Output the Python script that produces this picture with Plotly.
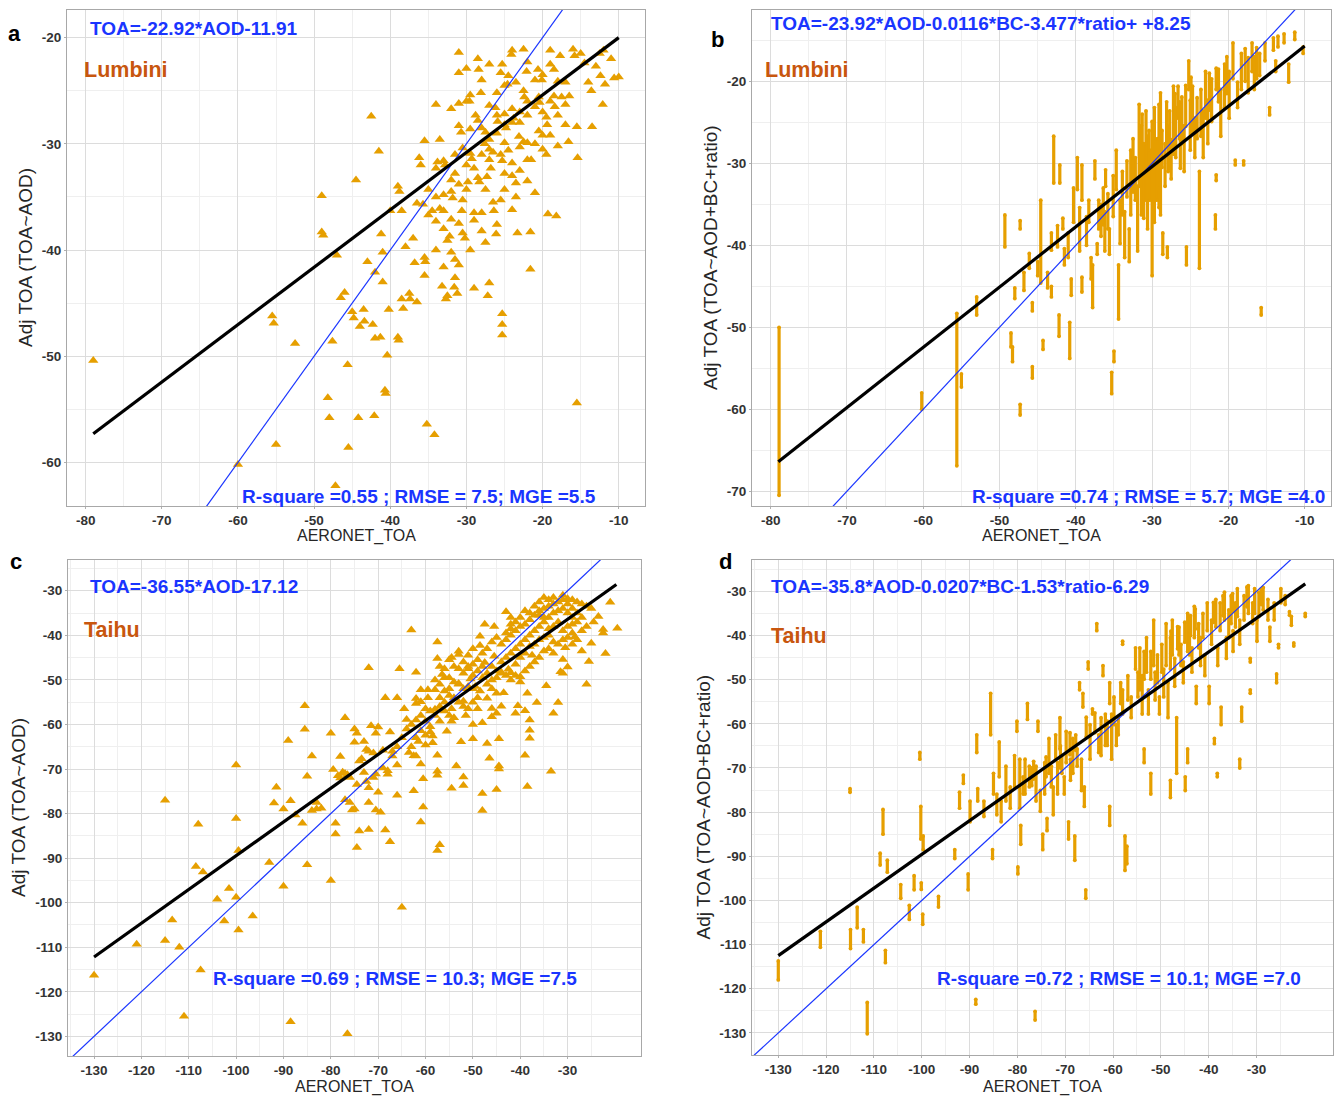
import plotly.graph_objects as go

W, H = 1338, 1096
ORANGE = "#E69F00"
BLUE = "#1A35FF"
SITE = "#C8560E"
FONT = "Liberation Sans, Arial, sans-serif"

# ---------------- data ----------------
# panel a: Lumbini, TOA ~ AOD  (AERONET_TOA, Adj TOA)
lumbini_aod_pts = [
(-79,-50.4),(-60,-60.2),(-55.5,-46.2),(-55.3,-46.9),(-55,-58.3),(-52.5,-48.8),(-49,-34.9),(-49,-38.3),(-48.8,-38.6),
(-48.2,-53.9),(-48,-55.8),(-47.6,-48.6),(-47.2,-62.2),(-47,-40.5),(-46.5,-44.5),(-46,-44.0),(-45.6,-50.8),(-45.5,-58.6),
(-45,-45.8),(-44.8,-46.4),(-44.5,-33.4),(-44.2,-55.8),(-44,-47.2),(-43.5,-45.6),(-43.4,-46.7),(-43,-41.1),(-42.5,-27.4),
(-42.3,-47.0),(-42,-42.1),(-42,-48.3),(-42.1,-55.6),(-41.5,-30.7),(-41,-40.2),(-41.2,-38.5),(-41,-43.0),(-41.3,-48.2),
(-40.7,-53.2),(-40.6,-53.5),(-40.2,-45.6),(-40.4,-49.9),(-40,-36.3),(-39,-34.0),(-38.8,-34.5),(-38.5,-36.3),(-39,-48.2),
(-38.9,-48.5),(-38.5,-44.6),(-38.3,-45.5),(-38,-39.7),(-37.5,-44.1),(-37.4,-44.6),(-37,-38.9),(-36.8,-41.2),(-36.5,-44.9),
(-36,-32.0),(-36.2,-31.3),(-35.5,-29.7),(-35.5,-40.7),(-35.4,-41.1),(-35.5,-42.4),(-35.7,-35.7),(-35,-36.7),(-35.2,-56.4),
(-34.5,-36.3),(-34,-37.3),(-34.2,-57.4),(-34,-26.3),(-33.5,-29.6),(-33.5,-36.1),(-33,-36.3),(-33,-31.6),(-32.8,-32.0),
(-33,-41.6),(-33.2,-43.4),(-32.5,-44.3),(-32.7,-44.6),(-32.5,-39.1),(-32.2,-38.7),(-32,-26.7),(-32,-34.5),(-31.8,-35.1),
(-31.5,-31.0),(-31.5,-32.8),(-31.5,-42.6),(-31.6,-43.5),(-31.2,-44.1),(-31.5,-40.9),(-31,-41.4),(-31,-21.4),(-31,-23.3),
(-31,-28.3),(-30.7,-28.9),(-30.5,-35.3),(-30.6,-36.3),(-30.5,-30.4),(-30.5,-38.4),(-30.2,-38.9),(-30,-22.9),(-30,-34.3),
(-29.8,-33.6),(-29.5,-30.9),(-29.3,-31.4),(-29.5,-25.4),(-29.6,-26.0),(-29.5,-40.0),(-29,-43.6),(-29,-36.5),(-28.8,-27.3),
(-28.5,-27.8),(-28.5,-33.2),(-28.3,-33.6),(-28.5,-22.0),(-28.4,-23.0),(-28,-36.5),(-28,-24.0),(-28.1,-25.2),(-27.5,-28.9),
(-27.6,-30.0),(-27.5,-34.3),(-27.3,-33.1),(-27.5,-39.3),(-27,-30.5),(-26.5,-30.8),(-27.2,-44.3),(-27,-43.1),(-27,-31.5),
(-26.8,-32.3),(-26.5,-35.5),(-26.4,-36.3),(-26.2,-26.6),(-26,-27.3),(-25.9,-27.9),(-26,-37.6),(-26.1,-38.5),(-25.5,-35.3),
(-25.5,-31.0),(-25.3,-31.6),(-25.3,-22.5),(-25.5,-23.3),(-25,-29.9),(-25,-28.2),(-24.8,-28.5),(-25,-34.3),(-25.3,-46.0),
(-25.3,-47.0),(-25.3,-48.0),(-24.5,-23.6),(-24.6,-24.4),(-24.5,-30.6),(-24,-21.2),(-24.1,-21.6),(-24,-33.0),(-23.5,-33.7),
(-24,-26.7),(-23.8,-27.6),(-23.5,-24.2),(-23,-28.0),(-23.1,-29.3),(-23,-32.5),(-23.3,-38.4),(-22.5,-21.1),(-22.5,-25.0),
(-22.4,-25.6),(-22.5,-29.8),(-22,-29.9),(-22,-33.5),(-22,-22.3),(-22.1,-23.2),(-22,-27.3),(-21.6,-41.8),(-21.6,-38.3),
(-21.5,-31.5),(-21,-34.6),(-21,-30.0),(-20.5,-25.6),(-20.4,-26.1),(-20.5,-28.8),(-20,-29.2),(-20,-30.5),(-20,-23.5),
(-20.1,-24.0),(-19.5,-27.5),(-19.4,-28.2),(-19.5,-31.0),(-19.3,-36.6),(-19,-21.2),(-19,-22.5),(-19,-29.2),(-18.5,-25.5),
(-18.4,-26.5),(-18.5,-23.0),(-18,-30.2),(-18.2,-36.8),(-18,-27.3),(-17.7,-21.7),(-17.5,-25.6),(-17,-26.3),(-17,-28.2),
(-16.6,-29.8),(-16.5,-25.5),(-16,-21.1),(-15.8,-21.7),(-15.4,-31.3),(-15.5,-54.4),(-15.5,-28.4),(-15,-21.5),(-14.5,-22.4),
(-14,-24.2),(-13.6,-25.0),(-13.5,-28.4),(-13,-22.7),(-12.5,-21.5),(-12.4,-23.6),(-12.1,-26.3),(-12,-21.2),(-11,-22.0),
(-10.6,-23.8),(-10,-23.7),(-11.8,-24.4),(-18,-24.1),(-17,-24.2),(-21,-24.0),(-20.6,-23.0),
(-34,-32.3),(-33.8,-31.7),(-36.5,-35.6),(-35,-34.3),(-34,-35.0),(-33,-34.8),(-32,-33.4),(-31,-33.8),(-30,-32.0),
(-29,-32.3),(-28,-31.0),(-27,-29.6),(-26,-29.0),(-25,-27.2),(-24,-28.0),(-23,-27.0),(-22,-26.0),(-21,-26.5),(-20,-27.0),
(-19,-26.0),(-32,-37.1),(-31,-37.5),(-29,-37.2),(-28,-38.2),(-33,-38.0),(-34,-40.0),(-32,-40.2),(-29.5,-28.6),(-28,-28.5),
(-27,-26.4),(-26,-25.2),(-25,-24.5),(-27,-22.5),(-30,-26.0),(-31,-26.2),(-23.5,-35.0),(-24,-36.2),(-25,-32.8),(-24,-31.8),
(-22,-31.5),(-23,-30.3),
]

# panel c: Taihu, TOA ~ AOD
taihu_aod_pts = [
(-130,-116.3),(-121,-109.3),(-115,-77),(-115,-108.5),(-113.5,-103.9),(-112,-110),(-111,-125.5),(-108.5,-91.9),(-108,-82.4),
(-107.5,-115.1),(-107,-93.1),(-104,-99.2),(-102.5,-104.1),(-101.5,-96.8),(-100,-69.1),(-100,-81.1),(-100,-98.8),
(-99.5,-106.1),(-99.5,-88.3),(-96.5,-103),(-93,-91),(-91.5,-74.1),(-92,-77.6),(-90,-79.0),(-90,-96.3),(-89,-63.6),
(-88.5,-77.1),(-88.5,-126.7),(-87.5,-80.3),(-86,-82.2),(-85.5,-55.8),(-85.5,-61.1),(-85,-71.6),(-85,-91.5),(-84,-79.3),
(-84,-67.1),(-83,-77.5),(-83,-79.0),(-82,-78.8),(-80,-95.0),(-80,-62.0),(-79.5,-70.1),(-79,-82.2),(-79,-84.6),
(-78.5,-71.5),(-78,-72.0),(-77.5,-70.7),(-77,-71.0),(-76.5,-71.3),(-78,-67.2),(-77,-58.5),(-77,-76.9),(-76.5,-129.4),
(-76,-77.5),(-76,-71.9),(-75.5,-79.2),(-75,-79.0),(-75,-64.0),(-75,-61.0),(-74.5,-62.0),(-74.5,-73.5),(-74,-68.2),
(-73.5,-67.7),(-74,-83.9),(-74.5,-87.6),(-73,-63.8),(-73,-70.8),(-72.5,-72.8),(-72,-74.2),(-72.5,-65.6),(-72,-66.0),
(-72,-77.5),(-72,-83.6),(-72,-47.3),(-71.5,-60.3),(-71,-66.4),(-71,-71.9),(-70.5,-71.1),(-70.5,-62.0),(-70.5,-79.2),
(-70,-75.2),(-70,-60.6),(-69.5,-79.7),(-69,-65.8),(-69,-69.8),(-68.5,-83.7),(-68.5,-54.0),(-68,-70.4),(-68,-71.2),
(-67.5,-61.7),(-67.5,-86.3),(-67,-67.1),(-66,-54.0),(-66,-69.1),(-66,-75.9),(-65.5,-47.5),(-65,-101),(-64.5,-56.5),
(-64,-58.9),(-63.5,-66.3),(-63,-38.8),(-62.5,-74.9),(-62.5,-67.0),(-62,-67.1),(-62,-54.2),(-62,-55.3),(-62,-48.3),
(-61.5,-63.8),(-61,-52.2),(-61,-54.9),(-61,-61.4),(-61,-68.9),(-60.5,-72.2),(-61,-81.9),(-60.5,-78.5),(-60,-59.3),
(-60,-62.4),(-60,-64.6),(-59.5,-54.0),(-59.5,-52.2),(-59,-60.5),(-59,-61.7),(-58.5,-62.6),(-58.5,-64.1),(-58,-56.6),
(-58,-52.2),(-57.5,-41.5),(-57.5,-45.2),(-57.5,-70.5),(-57.5,-71.4),(-57.5,-66.9),(-57,-87.0),(-57.5,-88.3),(-57,-54.0),
(-57,-59.3),(-56.5,-48.8),(-56,-49.5),(-56,-55.0),(-55.5,-61.5),(-55,-52.0),(-55,-45.5),(-54.5,-45.0),(-54.5,-56.5),
(-54.5,-59.3),(-54.5,-74.3),(-54,-47.0),(-53.5,-69.3),(-53,-43.6),(-53,-44.3),(-53,-50.8),(-52.5,-63.9),(-52,-71.8),
(-52,-73.7),(-52,-54.8),(-51.5,-58.0),(-51,-47.0),(-51,-47.5),(-50.5,-49.8),(-50,-63.2),(-50,-60),(-49.5,-51.5),
(-49,-56.5),(-48.5,-40.2),(-48.5,-42.3),(-48.5,-52.5),(-48,-75.5),(-48,-79.3),(-48,-59.6),(-47.5,-37.5),(-47.5,-46.1),
(-47,-64.3),(-47,-54.1),(-46.5,-67.6),(-46,-56.4),(-46,-58.3),(-45.5,-44.7),(-45.5,-38.0),(-45,-57.5),(-45,-74.6),
(-44.5,-69.3),(-44.5,-70.0),(-44.5,-63.2),(-44,-55.9),(-44,-48.3),(-43.5,-52.9),(-43,-34.7),(-43,-39.5),(-42.5,-47.6),
(-42,-48.4),(-42,-37.5),(-42,-38.5),(-41,-57.5),(-40.5,-55.8),(-40,-49.3),(-39,-66.9),(-39,-56.9),(-38.5,-73.9),
(-38.5,-53.0),(-38,-59.0),(-38,-61.3),(-38,-63.1),(-37.5,-44.5),(-36.5,-55.1),(-34.5,-51.3),(-33.5,-70.5),(-33,-57.5),
(-32,-55.1),(-31.5,-48.2),(-31,-48.5),(-31,-45.4),(-30.5,-42.8),(-30,-47.1),(-29,-39.5),(-28.5,-40.4),(-27,-43.5),
(-26,-51.0),(-25.5,-45.9),(-25,-41.8),(-24.5,-37.0),(-23.5,-35.8),(-22.5,-38.7),(-22.5,-39.5),(-22,-44.1),(-21,-32.6),
(-19.5,-38.4),
(-53,-47.5),(-52,-46),(-51,-44.5),(-50,-43),(-49,-45.5),(-48,-44),(-47,-43),(-46,-41.5),(-45,-40.5),(-44,-42),(-43,-41),
(-42,-40),(-41,-39),(-40,-38),(-39,-37.5),(-38,-36.5),(-37,-35.5),(-36,-34.5),(-35,-34),(-34,-33.5),(-33,-33),(-32,-32.5),
(-31,-32),(-30,-31.8),(-29,-32),(-28,-32.5),(-27,-33),(-26,-33.5),(-25,-34),
(-50,-49),(-49,-48),(-48,-47),(-47,-48.5),(-46,-47),(-45,-48),(-44,-46),(-43,-45),(-42,-44),(-41,-43),(-40,-42),(-39,-41),
(-38,-40),(-37,-39),(-36,-38),(-35,-37),(-34,-36),(-33,-35),(-32,-34.5),(-31,-34),(-30,-35),(-29,-36),(-28,-37),
(-41,-46.5),(-40,-45),(-39,-44),(-38,-42.5),(-37,-42),(-36,-41),(-35,-40.5),(-34,-40),(-33,-41.5),(-32,-42),(-31,-41),
(-30,-40.5),(-29,-42),(-32,-37),(-33,-38),(-34,-38.5),(-35,-36),(-36,-35.5),(-38,-35),(-39,-34.5),(-40,-36),(-41,-37),
(-42,-36),(-37,-33.5),(-36,-32.5),(-35,-31.5),(-34,-32),(-33,-31.5),(-31,-31),(-30,-33),(-29,-34),(-28,-35),(-27,-36),
(-26,-38),(-27,-39),(-28,-41),(-31,-39),(-30,-38),(-29,-37.5),
(-44,-48.5),(-43,-49),(-42,-50),(-41,-49),(-40,-50.5),(-39,-48),(-38,-47),(-37,-46),(-36,-45),(-35,-43.5),(-34,-43),
(-33,-44),(-45,-49.5),(-46,-50),
(-58,-50),(-57,-51),(-56,-52.5),(-55,-53.5),(-54,-54),(-53,-55),(-52,-56),(-51,-56.5),(-50,-55),(-49,-54),(-56,-57),
(-55,-58),(-54,-58.5),(-57,-56),(-58,-58),(-59,-57),(-60,-56.5),(-61,-58),(-62,-59),(-63,-60),(-64,-61),(-62,-63),
(-63,-65),(-65,-63),(-66,-65),(-67,-66),(-52,-52),(-51,-51.5),(-50,-52),(-53,-51),(-54,-50.5),(-55,-49.5),(-56,-47.5),
(-57,-47),(-52,-48.5),(-50,-46.5),(-48,-49.5),(-47,-51),(-46,-52),(-45,-53),
]

# panel b: Lumbini, TOA ~ AOD+BC+ratio  -- vertical runs of points (x, y_low, y_high)
lumbini_multi_runs = [
(-78.9,-70.5,-50.0),(-60.2,-60.0,-58.0),(-55.6,-66.9,-48.3),(-55.0,-57.3,-55.7),(-53.0,-48.5,-46.3),(-49.3,-40.2,-36.3),
(-48.5,-52.4,-50.7),(-48.3,-54.2,-52.4),(-48.0,-46.5,-45.2),(-47.3,-38.0,-37.0),(-47.3,-60.7,-59.4),(-46.8,-45.5,-43.3),
(-46.1,-42.8,-41.0),(-45.7,-56.2,-54.8),(-45.7,-48.0,-47.0),(-45.0,-43.7,-42.0),(-44.6,-44.6,-34.5),(-44.3,-52.7,-51.6),
(-43.7,-45.2,-43.3),(-43.2,-46.3,-45.0),(-42.9,-32.4,-26.7),(-43.2,-40.6,-38.5),(-42.4,-40.2,-37.6),(-42.2,-51.1,-48.5),
(-42.1,-32.4,-30.2),(-41.7,-38.0,-36.7),(-41.5,-42.4,-40.4),(-41.0,-41.5,-38.5),(-40.8,-53.8,-49.4),(-40.6,-46.1,-44.1),
(-40.3,-37.2,-33.0),(-39.8,-33.2,-29.3),(-39.5,-40.7,-35.4),(-39.2,-34.5,-30.2),(-39.2,-45.7,-43.9),(-38.3,-37.2,-34.5),
(-38.0,-44.1,-41.5),(-37.8,-47.6,-42.4),(-37.5,-31.9,-29.7),(-37.2,-41.1,-39.8),(-36.7,-38.9,-35.0),(-36.2,-40.7,-35.9),
(-36.1,-32.8,-30.8),(-35.8,-38.0,-33.7),(-35.6,-41.1,-38.0),(-35.3,-58.1,-55.5),(-35.0,-54.2,-52.9),(-34.7,-33.2,-28.4),
(-34.4,-49.0,-42.4),(-34.2,-39.8,-34.5),(-33.9,-36.3,-31.0),(-33.6,-41.5,-35.9),(-33.3,-34.1,-29.7),(-33.0,-42.0,-38.0),
(-32.8,-36.3,-28.4),(-32.2,-34.5,-29.3),(-31.9,-40.7,-32.8),(-31.7,-32.8,-22.8),(-31.4,-36.3,-25.4),(-31.1,-36.7,-27.6),
(-30.8,-34.5,-23.6),(-30.6,-38.0,-26.7),(-30.3,-34.5,-28.4),(-30.0,-43.7,-24.9),(-29.7,-37.2,-23.2),(-29.4,-34.5,-29.7),
(-29.1,-35.4,-22.8),(-28.9,-36.3,-21.4),(-28.6,-41.1,-38.5),(-28.3,-32.8,-27.6),(-28.0,-41.5,-40.2),(-27.7,-30.6,-23.6),
(-27.5,-31.9,-27.1),(-27.2,-28.9,-20.6),(-26.9,-29.3,-23.2),(-26.6,-24.5,-20.6),(-26.3,-30.6,-24.5),(-26.1,-27.6,-21.9),
(-25.8,-31.0,-25.4),(-25.5,-42.4,-40.2),(-25.2,-21.0,-17.5),(-25.0,-28.4,-22.3),(-24.7,-26.2,-20.6),(-24.4,-29.3,-24.5),
(-23.8,-42.8,-31.0),(-23.6,-26.7,-21.0),(-23.3,-29.3,-23.6),(-23.0,-24.5,-18.8),(-22.7,-27.6,-22.3),(-22.2,-24.9,-19.7),
(-21.7,-38.0,-36.3),(-21.6,-21.0,-18.4),(-21.6,-32.1,-31.4),(-21.0,-26.7,-21.0),(-20.5,-23.2,-17.9),(-19.9,-24.5,-18.8),
(-19.4,-19.7,-15.3),(-19.1,-30.2,-29.6),(-18.8,-23.2,-20.1),(-18.3,-21.0,-16.6),(-18.0,-30.2,-29.7),(-17.4,-21.4,-17.1),
(-16.9,-18.8,-15.3),(-16.3,-19.7,-15.9),(-15.9,-19.3,-16.6),(-15.7,-48.5,-47.6),(-15.2,-17.5,-15.3),(-14.6,-24.1,-23.2),
(-14.1,-16.2,-14.7),(-13.8,-18.8,-17.5),(-13.5,-15.8,-14.5),(-12.7,-15.3,-14.2),(-12.1,-20.1,-17.9),(-11.3,-14.9,-14.0),
(-10.2,-16.6,-15.8),
(-32.5,-33.5,-27.0),(-31.3,-30.0,-24.0),(-30.4,-31.5,-26.0),(-29.9,-30.0,-25.5),(-29.3,-33.0,-27.0),(-28.7,-30.5,-26.0),
(-28.1,-28.0,-22.5),(-27.9,-31.0,-25.5),(-27.0,-26.5,-21.5),(-26.4,-27.0,-22.5),(-25.6,-25.5,-20.5),(-24.9,-25.0,-19.5),
(-24.1,-27.0,-22.0),(-22.5,-23.5,-19.0),(-21.3,-22.5,-18.5),(-20.2,-21.5,-17.0),(-17.8,-20.0,-16.0),(-16.6,-21.0,-17.0),
(-35.1,-36.5,-31.5),(-36.4,-37.5,-33.0),(-37.0,-38.0,-34.5),(-38.6,-40.0,-36.5),
]

# panel d: Taihu, TOA ~ AOD+BC+ratio  -- vertical runs of points (x, y_low, y_high)
taihu_multi_runs = [
(-130.0,-118.0,-113.7),(-121.2,-110.6,-107.0),(-115.0,-75.5,-74.7),(-114.9,-110.9,-106.6),(-113.5,-106.2,-101.5),
(-112.2,-109.4,-106.6),(-111.4,-130.2,-123.1),(-108.7,-92.0,-89.3),(-108.1,-85.0,-79.4),(-107.2,-93.6,-90.9),
(-107.6,-114.1,-111.3),(-104.4,-99.5,-96.4),(-102.6,-104.3,-101.1),(-101.6,-97.6,-94.4),(-100.4,-68.0,-66.5),
(-100.2,-86.1,-78.7),(-99.7,-88.5,-85.4),(-100.1,-97.5,-96.0),(-99.8,-105.4,-103.1),(-96.5,-101.5,-99.1),
(-93.1,-90.5,-88.5),(-92.1,-79.1,-75.5),(-91.3,-73.5,-71.6),(-90.3,-97.6,-94.0),(-89.9,-82.2,-77.5),(-88.7,-123.5,-122.4),
(-88.5,-66.5,-62.5),(-88.3,-77.5,-74.7),(-87.0,-81.0,-77.5),(-85.6,-62.5,-53.1),(-85.2,-90.5,-88.5),(-85.0,-75.9,-71.2),
(-84.3,-80.6,-75.9),(-83.8,-72.0,-64.1),(-83.4,-82.2,-77.5),(-82.4,-77.5,-69.6),(-81.5,-79.1,-74.3),(-80.6,-74.3,-67.2),
(-80.1,-61.7,-59.4),(-79.9,-94.0,-92.4),(-79.5,-79.1,-68.0),(-79.3,-87.3,-83.0),(-78.8,-75.9,-72.0),(-78.4,-75.9,-68.0),
(-77.9,-59.0,-55.4),(-77.5,-74.3,-69.6),(-76.3,-127.1,-125.1),(-76.1,-77.5,-69.6),(-75.7,-61.7,-59.4),(-75.2,-79.8,-75.1),
(-74.7,-88.5,-85.0),(-74.3,-75.9,-68.8),(-73.8,-84.2,-81.4),(-73.4,-71.2,-63.3),(-72.9,-74.3,-69.6),(-72.5,-80.6,-74.3),
(-72.0,-68.0,-62.5),(-71.6,-75.9,-68.8),(-71.1,-65.7,-58.6),(-70.7,-71.2,-67.2),(-70.2,-75.9,-72.0),(-69.8,-68.8,-61.7),
(-69.3,-86.1,-82.2),(-68.9,-72.8,-68.0),(-68.4,-71.2,-63.3),(-68.0,-90.9,-85.4),(-67.5,-69.6,-65.7),(-67.0,-52.3,-50.7),
(-66.6,-75.1,-68.0),(-66.0,-78.7,-74.3),(-66.3,-56.2,-53.1),(-65.7,-99.5,-97.6),(-65.2,-47.6,-46.0),(-64.8,-68.0,-60.2),
(-64.3,-57.8,-56.6),(-63.4,-38.9,-37.3),(-63.0,-66.5,-62.5),(-62.5,-67.2,-58.6),(-62.1,-49.1,-46.8),(-61.6,-64.9,-57.8),
(-61.2,-64.9,-59.4),(-60.7,-55.4,-50.7),(-60.7,-83.0,-78.7),(-60.3,-68.0,-57.8),(-59.8,-60.2,-53.9),(-59.3,-64.9,-60.2),
(-58.9,-62.5,-58.6),(-58.4,-55.4,-50.7),(-58.0,-42.0,-41.3),(-58.0,-57.8,-52.3),(-57.5,-93.2,-85.4),(-57.1,-91.7,-87.7),
(-56.9,-54.6,-49.1),(-56.2,-58.6,-53.9),(-55.3,-47.6,-42.8),(-54.8,-53.9,-48.3),(-54.4,-52.3,-42.8),(-53.9,-57.8,-49.1),
(-53.5,-68.8,-65.7),(-53.5,-49.9,-43.6),(-53.0,-48.3,-40.5),(-52.6,-57.8,-52.3),(-52.1,-75.9,-71.2),(-52.1,-49.9,-43.6),
(-51.5,-46.8,-36.5),(-51.2,-54.6,-48.3),(-50.7,-50.7,-44.4),(-50.3,-57.8,-53.9),(-49.8,-48.3,-42.0),(-49.4,-53.9,-47.6),
(-48.9,-46.8,-37.3),(-48.5,-58.6,-50.7),(-48.0,-47.6,-40.5),(-48.0,-76.7,-72.8),(-47.6,-44.4,-36.5),(-47.1,-51.5,-45.2),
(-46.7,-71.2,-58.6),(-46.2,-44.4,-38.1),(-45.8,-46.8,-42.0),(-45.3,-50.7,-46.0),(-44.9,-75.1,-72.0),(-44.4,-68.8,-65.7),
(-44.4,-43.6,-35.0),(-44.0,-44.4,-38.9),(-43.5,-48.3,-42.8),(-43.0,-40.5,-33.4),(-42.6,-55.4,-51.5),(-42.1,-42.8,-37.3),
(-41.7,-46.8,-40.5),(-41.2,-40.5,-35.0),(-40.8,-49.1,-44.4),(-40.3,-38.9,-32.6),(-39.9,-55.4,-51.5),(-39.4,-42.0,-36.5),
(-38.8,-64.5,-63.3),(-38.5,-38.1,-31.8),(-38.2,-72.0,-71.2),(-38.1,-46.8,-42.8),(-37.6,-38.9,-32.6),(-37.4,-60.2,-56.2),
(-36.7,-36.5,-30.2),(-36.3,-45.2,-40.5),(-35.8,-40.5,-34.2),(-35.3,-37.3,-31.0),(-34.9,-43.6,-38.9),(-34.4,-38.1,-32.6),
(-34.0,-35.7,-29.4),(-33.5,-70.0,-68.0),(-33.5,-42.0,-36.5),(-33.1,-59.4,-56.2),(-32.6,-36.5,-31.0),(-31.7,-35.0,-28.7),
(-31.3,-46.0,-45.2),(-31.3,-53.1,-52.3),(-30.8,-37.3,-32.6),(-30.4,-35.0,-29.4),(-29.9,-41.3,-36.5),(-29.5,-35.7,-30.2),
(-28.6,-34.2,-29.1),(-27.6,-36.5,-31.8),(-27.2,-41.3,-38.1),(-26.3,-36.5,-32.6),(-25.8,-50.7,-48.7),(-25.4,-42.8,-42.0),
(-24.9,-32.6,-29.4),(-24.0,-33.0,-31.0),(-23.1,-35.4,-34.6),(-22.7,-37.7,-35.7),(-22.2,-42.4,-41.7),(-19.8,-35.7,-35.0),
(-77.0,-74.0,-70.0),(-76.6,-72.5,-68.5),(-74.0,-72.0,-67.5),(-71.0,-70.0,-65.0),(-69.0,-67.0,-62.0),(-67.8,-66.0,-62.5),
(-65.6,-63.0,-58.5),(-63.8,-62.0,-57.5),(-47.9,-44.0,-39.0),(-46.5,-43.0,-38.0),(-45.0,-41.5,-37.0),(-43.8,-40.0,-35.5),
(-42.8,-38.5,-34.0),(-39.0,-37.0,-32.5),(-37.0,-35.5,-31.0),(-35.0,-34.5,-30.5),(-32.0,-33.5,-29.0),(-29.0,-33.0,-29.5),
]

# fitted regression lines (end points)
fit_a_x, fit_a_y = [-79, -10], [-57.3, -20.0]
fit_b_x, fit_b_y = [-79, -10], [-66.4, -15.7]
fit_c_x, fit_c_y = [-130, -19.7], [-112.2, -28.6]
fit_d_x, fit_d_y = [-130, -19.8], [-112.5, -28.3]

equations = [
    "TOA=-22.92*AOD-11.91",
    "TOA=-23.92*AOD-0.0116*BC-3.477*ratio+ +8.25",
    "TOA=-36.55*AOD-17.12",
    "TOA=-35.8*AOD-0.0207*BC-1.53*ratio-6.29",
]
stats = [
    "R-square =0.55 ; RMSE = 7.5; MGE =5.5",
    "R-square =0.74 ; RMSE = 5.7; MGE =4.0",
    "R-square =0.69 ; RMSE = 10.3; MGE =7.5",
    "R-square =0.72 ; RMSE = 10.1; MGE =7.0",
]
sites = ["Lumbini", "Lumbini", "Taihu", "Taihu"]
panel_letters = ["a", "b", "c", "d"]
y_titles = ["Adj TOA (TOA~AOD)", "Adj TOA (TOA~AOD+BC+ratio)",
            "Adj TOA (TOA~AOD)", "Adj TOA (TOA~AOD+BC+ratio)"]
x_title = "AERONET_TOA"

xticks_lumbini = [-80, -70, -60, -50, -40, -30, -20, -10]
yticks_a = [-60, -50, -40, -30, -20]
yticks_b = [-70, -60, -50, -40, -30, -20]
ticks_taihu = [-130, -120, -110, -100, -90, -80, -70, -60, -50, -40, -30]

# ---------------- layout geometry (pixels) ----------------
def px(x):
    return x / W

def py(y):
    return 1 - y / H

panels = [
    dict(box=(67, 10, 645, 506), xr=[-82.45, -6.55], yr=[-64.1, -17.4], xt=xticks_lumbini, yt=yticks_a),
    dict(box=(752, 10, 1331, 506), xr=[-82.45, -6.55], yr=[-71.8, -11.3], xt=xticks_lumbini, yt=yticks_b),
    dict(box=(68, 560, 641, 1056), xr=[-135.5, -14.5], yr=[-134.4, -23.1], xt=ticks_taihu, yt=ticks_taihu),
    dict(box=(752, 560, 1333, 1055), xr=[-135.5, -14.0], yr=[-135.0, -22.9], xt=ticks_taihu, yt=ticks_taihu),
]

def minor_vals(t):
    step = t[1] - t[0]
    vals = [v + step / 2 for v in t[:-1]]
    return [t[0] - step / 2] + vals + [t[-1] + step / 2]

fig = go.Figure()
layout = {}
for i, p in enumerate(panels):
    n = "" if i == 0 else str(i + 1)
    x0, y0, x1, y1 = p["box"]
    common = dict(
        showline=True, mirror=True, linecolor="#A8A8A8", linewidth=1.2,
        showgrid=True, gridcolor="#DCDCDC", gridwidth=1, zeroline=False,
        ticks="outside", ticklen=2, tickcolor="#B0B0B0", tickwidth=1,
        tickfont=dict(family=FONT, size=13.5, color="#333333", weight="bold"),
        tickmode="array",
    )
    layout["xaxis" + n] = dict(common, domain=[px(x0), px(x1)], range=p["xr"], anchor="y" + n,
                              tickvals=p["xt"], ticktext=[str(v) for v in p["xt"]],
                              minor=dict(tickmode="array", tickvals=minor_vals(p["xt"]),
                                         showgrid=True, gridcolor="#EFEFEF", gridwidth=1))
    layout["yaxis" + n] = dict(common, domain=[py(y1), py(y0)], range=p["yr"], anchor="x" + n,
                              tickvals=p["yt"], ticktext=[str(v) for v in p["yt"]],
                              minor=dict(tickmode="array", tickvals=minor_vals(p["yt"]),
                                         showgrid=True, gridcolor="#EFEFEF", gridwidth=1))

def axes(i):
    n = "" if i == 0 else str(i + 1)
    return dict(xaxis="x" + n, yaxis="y" + n)

def runs_to_xy(runs):
    xs, ys = [], []
    for x, lo, hi in runs:
        xs += [x, x, None]
        ys += [lo, hi, None]
    return xs, ys

# panel a & c triangles
for i, pts in [(0, lumbini_aod_pts), (2, taihu_aod_pts)]:
    fig.add_trace(go.Scatter(x=[q[0] for q in pts], y=[q[1] for q in pts], mode="markers",
                             marker=dict(symbol="triangle-up", size=9, color=ORANGE, line=dict(width=0)),
                             showlegend=False, hoverinfo="skip", **axes(i)))
# panel b & d runs
for i, runs in [(1, lumbini_multi_runs), (3, taihu_multi_runs)]:
    xs, ys = runs_to_xy(runs)
    fig.add_trace(go.Scatter(x=xs, y=ys, mode="lines+markers",
                             line=dict(color=ORANGE, width=3.2),
                             marker=dict(size=3.8, color=ORANGE),
                             showlegend=False, hoverinfo="skip", **axes(i)))

# 1:1 lines and fitted lines
fits = [(fit_a_x, fit_a_y), (fit_b_x, fit_b_y), (fit_c_x, fit_c_y), (fit_d_x, fit_d_y)]
for i, p in enumerate(panels):
    lo = min(p["xr"][0], p["yr"][0])
    hi = max(p["xr"][1], p["yr"][1])
    fig.add_trace(go.Scatter(x=[lo, hi], y=[lo, hi], mode="lines",
                             line=dict(color=BLUE, width=1.2),
                             showlegend=False, hoverinfo="skip", **axes(i)))
    fx, fy = fits[i]
    fig.add_trace(go.Scatter(x=fx, y=fy, mode="lines",
                             line=dict(color="black", width=3.2),
                             showlegend=False, hoverinfo="skip", **axes(i)))

# ---------------- text ----------------
ann = []
def add_text(text, x, y, size, color, xanchor="left", bold=True, angle=0, yanchor="middle"):
    ann.append(dict(text=text, x=px(x), y=py(y), xref="paper", yref="paper",
                    xanchor=xanchor, yanchor=yanchor, showarrow=False, textangle=angle,
                    font=dict(family=FONT, size=size, color=color,
                              weight="bold" if bold else "normal")))

eq_pos = [(88, 28), (769, 24), (88, 586), (769, 586)]
site_pos = [(82, 70), (763, 70), (82, 630), (769, 636)]
stat_pos = [(598, 497), (1327, 497), (579, 978), (1303, 978)]
letter_pos = [(14, 33), (717, 39), (16, 561), (725, 561)]
ytitle_x = [25, 710, 18, 703]
xtitle_y = [536, 536, 1087, 1087]

for i, p in enumerate(panels):
    x0, y0, x1, y1 = p["box"]
    add_text(equations[i], *eq_pos[i], 19, BLUE)
    add_text(sites[i], *site_pos[i], 21.5, SITE)
    add_text(stats[i], *stat_pos[i], 19, BLUE, xanchor="right")
    add_text(panel_letters[i], *letter_pos[i], 22, "black", xanchor="center")
    add_text(x_title, (x0 + x1) / 2, xtitle_y[i], 16, "#262626", xanchor="center", bold=False)
    add_text(y_titles[i], ytitle_x[i], (y0 + y1) / 2, 19, "#262626", xanchor="center",
             bold=False, angle=-90)

layout.update(dict(width=W, height=H, margin=dict(l=0, r=0, t=0, b=0),
                   paper_bgcolor="white", plot_bgcolor="white",
                   showlegend=False, annotations=ann,
                   font=dict(family=FONT)))
fig.update_layout(**layout)
fig.write_html("out.html", config={"displayModeBar": False},
               post_script="document.body.style.margin='0px';document.body.style.padding='0px';")
